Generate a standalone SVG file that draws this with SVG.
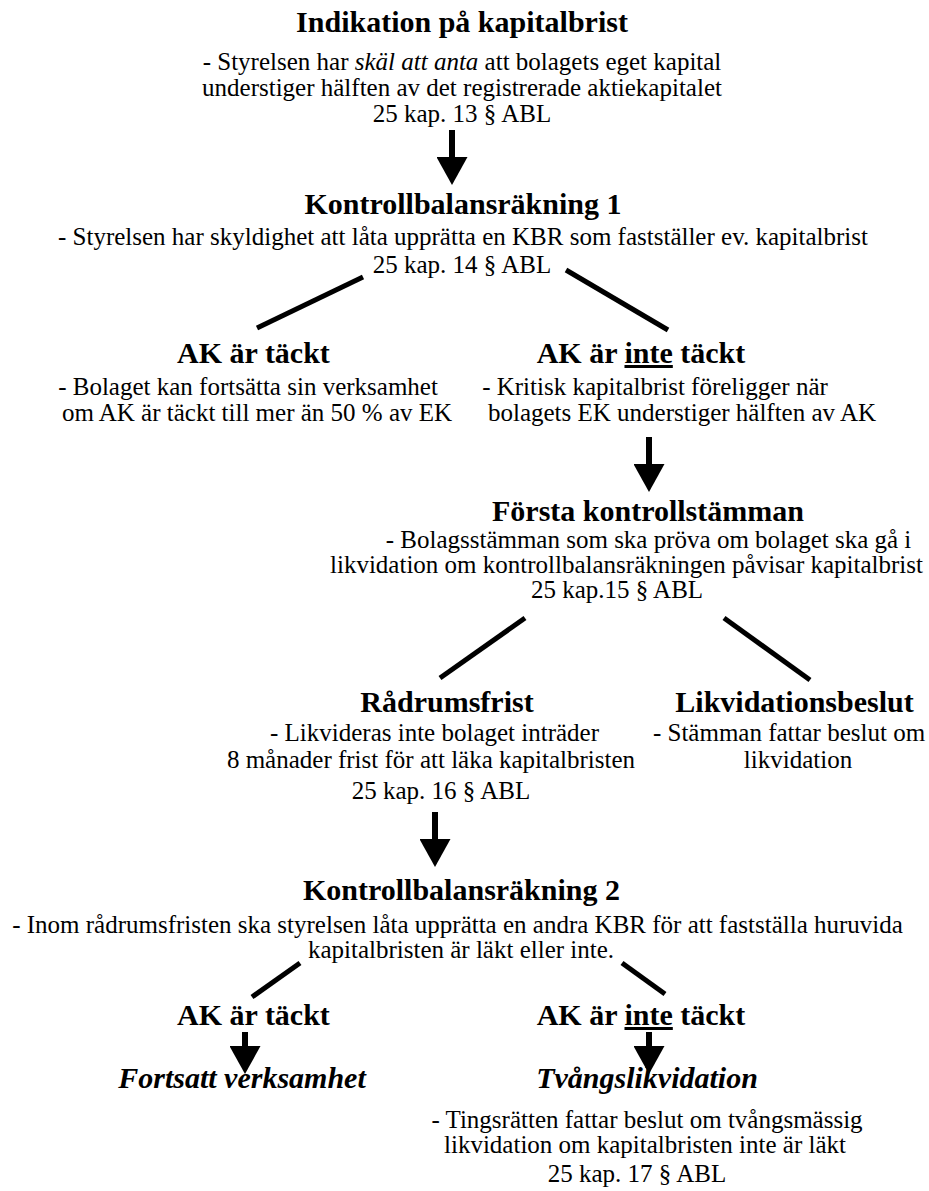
<svg xmlns="http://www.w3.org/2000/svg" width="929" height="1191" viewBox="0 0 929 1191">
<style>
text { font-family: "Liberation Serif", "Times New Roman", serif; fill: #000; text-anchor: middle; }
.t { font-size: 30px; font-weight: bold; }
.b { font-size: 25px; }
.bi { font-size: 30px; font-weight: bold; font-style: italic; }
.u { text-decoration: underline; }
.ln { stroke: #000; stroke-width: 5; fill: none; }
.ar { stroke: #000; stroke-width: 6; fill: none; marker-end: url(#ah); }
</style>
<defs>
<marker id="ah" viewBox="0 0 28 31" refX="0" refY="15.5" markerWidth="28" markerHeight="31" markerUnits="userSpaceOnUse" orient="auto">
<path d="M0,0 L28,15.5 L0,31 Z" fill="#000"/>
</marker>
</defs>
<rect width="929" height="1191" fill="#fff"/>

<g id="connectors">
<line class="ar" x1="452" y1="130" x2="452" y2="157"/>
<line class="ln" x1="363" y1="277" x2="257" y2="328"/>
<line class="ln" x1="566" y1="270" x2="668" y2="330"/>
<line class="ar" x1="649" y1="437" x2="649" y2="464"/>
<line class="ln" x1="525" y1="618" x2="440" y2="678"/>
<line class="ln" x1="724" y1="618" x2="810" y2="680"/>
<line class="ar" x1="435" y1="812" x2="435" y2="839"/>
<line class="ln" x1="300" y1="963" x2="252" y2="997"/>
<line class="ln" x1="622" y1="963" x2="665" y2="994"/>
<line class="ar" x1="245" y1="1032" x2="245" y2="1046"/>
<line class="ar" x1="649" y1="1032" x2="649" y2="1046"/>
</g>

<g id="indikation">
<text class="t" x="462" y="32">Indikation på kapitalbrist</text>
<text class="b" x="462" y="70">- Styrelsen har <tspan font-style="italic">skäl att anta</tspan> att bolagets eget kapital</text>
<text class="b" x="462" y="96">understiger hälften av det registrerade aktiekapitalet</text>
<text class="b" x="462" y="122">25 kap. 13 § ABL</text>
</g>

<g id="kbr1">
<text class="t" x="463" y="214">Kontrollbalansräkning 1</text>
<text class="b" x="463" y="245">- Styrelsen har skyldighet att låta upprätta en KBR som fastställer ev. kapitalbrist</text>
<text class="b" x="462" y="273">25 kap. 14 § ABL</text>
</g>

<g id="ak-tackt-1">
<text class="t" x="253.5" y="363">AK är täckt</text>
<text class="b" x="248" y="395">- Bolaget kan fortsätta sin verksamhet</text>
<text class="b" x="257" y="421">om AK är täckt till mer än 50 % av EK</text>
</g>

<g id="ak-inte-tackt-1">
<text class="t" x="641" y="363">AK är <tspan class="u">inte</tspan> täckt</text>
<text class="b" x="655" y="395">- Kritisk kapitalbrist föreligger när</text>
<text class="b" x="682" y="421">bolagets EK understiger hälften av AK</text>
</g>

<g id="forsta-kontrollstamman">
<text class="t" x="648" y="521">Första kontrollstämman</text>
<text class="b" x="648.5" y="548">- Bolagsstämman som ska pröva om bolaget ska gå i</text>
<text class="b" x="626.5" y="573">likvidation om kontrollbalansräkningen påvisar kapitalbrist</text>
<text class="b" x="617" y="598">25 kap.15 § ABL</text>
</g>

<g id="radrumsfrist">
<text class="t" x="447" y="712">Rådrumsfrist</text>
<text class="b" x="434.5" y="741">- Likvideras inte bolaget inträder</text>
<text class="b" x="431" y="768">8 månader frist för att läka kapitalbristen</text>
<text class="b" x="441" y="799">25 kap. 16 § ABL</text>
</g>

<g id="likvidationsbeslut">
<text class="t" x="794.5" y="712">Likvidationsbeslut</text>
<text class="b" x="789" y="741">- Stämman fattar beslut om</text>
<text class="b" x="798" y="768">likvidation</text>
</g>

<g id="kbr2">
<text class="t" x="461.5" y="900">Kontrollbalansräkning 2</text>
<text class="b" x="457.5" y="933">- Inom rådrumsfristen ska styrelsen låta upprätta en andra KBR för att fastställa huruvida</text>
<text class="b" x="461" y="958">kapitalbristen är läkt eller inte.</text>
</g>

<g id="ak-tackt-2">
<text class="t" x="253.5" y="1025">AK är täckt</text>
</g>

<g id="ak-inte-tackt-2">
<text class="t" x="641" y="1025">AK är <tspan class="u">inte</tspan> täckt</text>
</g>

<g id="fortsatt-verksamhet">
<text class="bi" x="242" y="1088">Fortsatt verksamhet</text>
</g>

<g id="tvangslikvidation">
<text class="bi" x="647" y="1088">Tvångslikvidation</text>
<text class="b" x="647" y="1128">- Tingsrätten fattar beslut om tvångsmässig</text>
<text class="b" x="645" y="1153">likvidation om kapitalbristen inte är läkt</text>
<text class="b" x="637" y="1182">25 kap. 17 § ABL</text>
</g>
</svg>
